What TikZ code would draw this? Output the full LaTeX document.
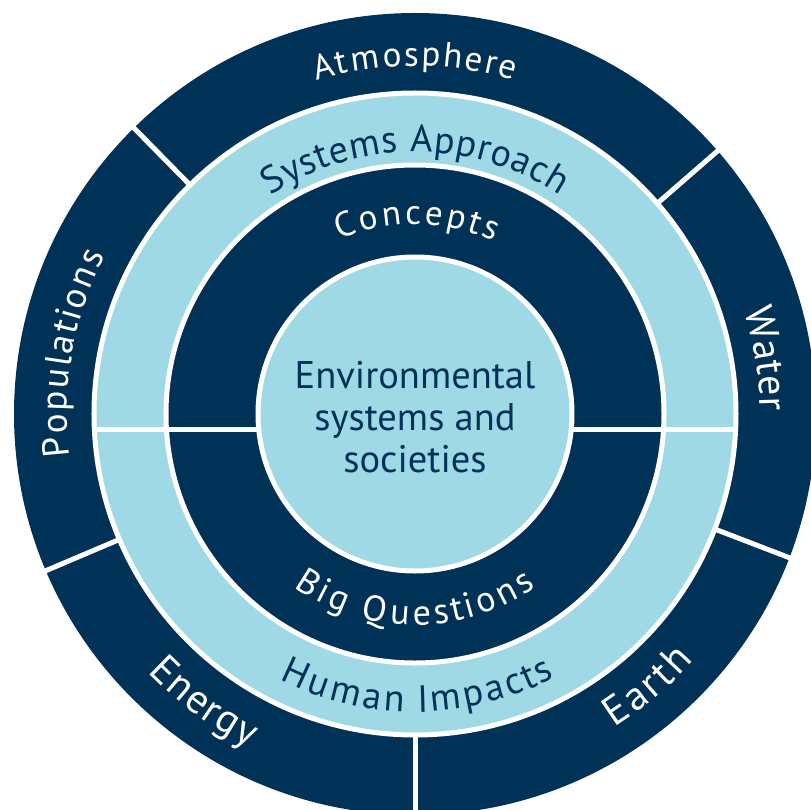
\documentclass[tikz,border=0pt]{standalone}
\usepackage{fontspec}
\setmainfont{PT Sans}
\usetikzlibrary{decorations.text}
\definecolor{navy}{RGB}{0,50,87}
\definecolor{sky}{RGB}{159,217,230}
\newcommand\ringlabel[6]{%
  \begin{scope}
    \fontsize{#1}{#1}\selectfont
    \path[decorate, decoration={text effects along path, text={#6},
      text effects/.cd, text along path, fit text to path, characters={text=#2}}]
      (#4:#3) arc[start angle=#4, end angle=#5, radius=#3];
  \end{scope}}
\tikzset{
  ring/.style={draw=white, line width=5pt},
  divider/.style={white, line width=5pt}
}
\begin{document}
\begin{tikzpicture}[x=1pt,y=1pt]
\useasboundingbox (-415,-395) rectangle (396,414);
\clip (-415,-395) rectangle (396,414);
\fill[navy] (0,0) circle[radius=401];
\foreach \a in {134.5,41,-21,203,270} \draw[divider] (\a:300) -- (\a:430);
\filldraw[ring, fill=sky] (0,0) circle[radius=321];
\filldraw[ring, fill=navy] (0,0) circle[radius=249];
\draw[divider] (-321,-15) -- (321,-15);
\filldraw[ring, fill=sky] (0,0) circle[radius=157];
\node[text=navy, align=center, font=\fontsize{38.5}{42}\selectfont] (centre) at (0,-3) {Environmental\\systems and\\societies};
\ringlabel{35}{white}{348}{106.5}{73.5}{Atmosphere}
\ringlabel{38}{navy}{262}{123.5}{56.5}{Systems Approach}
\ringlabel{35}{white}{190}{113.5}{65.5}{Concepts}
\ringlabel{36}{white}{211}{235}{305}{Big Questions}
\ringlabel{38}{navy}{298}{243}{298}{Human Impacts}
\ringlabel{37}{white}{348}{187}{153}{Populations}
\ringlabel{40}{white}{345}{17.5}{0.5}{Water}
\ringlabel{41}{white}{372}{224}{243.5}{Energy}
\ringlabel{41}{white}{372}{302.5}{318.5}{Earth}
\end{tikzpicture}
\end{document}
